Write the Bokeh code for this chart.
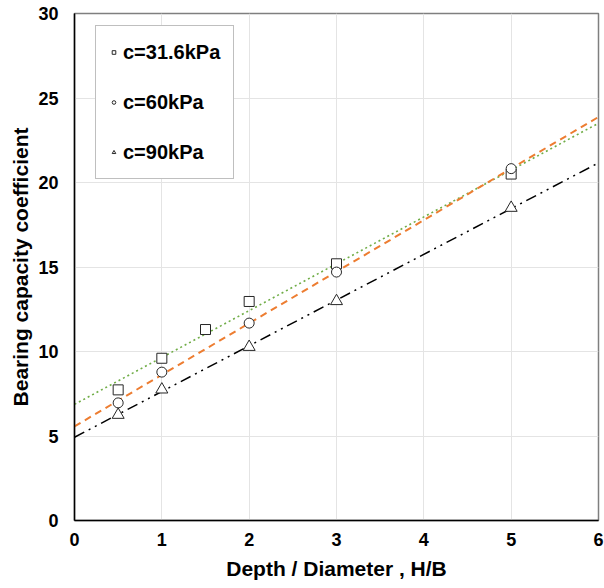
import numpy as np
from bokeh.plotting import figure
from bokeh.models import Range1d, FixedTicker, Legend, LegendItem
from bokeh.embed import file_html
from bokeh.resources import INLINE

# data
x_a = [0.5, 1.0, 1.5, 2.0, 3.0, 5.0]
y_a = [7.73, 9.6, 11.3, 12.96, 15.19, 20.5]   # c=31.6kPa
x_b = [0.5, 1.0, 2.0, 3.0, 5.0]
y_b = [6.96, 8.78, 11.68, 14.7, 20.82]         # c=60kPa
x_c = [0.5, 1.0, 2.0, 3.0, 5.0]
y_c = [6.25, 7.75, 10.27, 12.98, 18.5]         # c=90kPa
labels = ["c=31.6kPa", "c=60kPa", "c=90kPa"]
x_ticks = [0, 1, 2, 3, 4, 5, 6]
y_ticks = [0, 5, 10, 15, 20, 25, 30]

FONT = "Liberation Sans"

p = figure(width=604, height=588, output_backend="svg", toolbar_location=None,
           x_range=Range1d(0, 6), y_range=Range1d(0, 30),
           min_border_left=74, min_border_right=6, min_border_top=13, min_border_bottom=68)
p.background_fill_color = "white"
p.border_fill_color = "white"
p.outline_line_color = "#7f7f7f"
p.outline_line_width = 1.5

for ax in (p.xaxis[0], p.yaxis[0]):
    ax.axis_line_color = "black"
    ax.axis_line_width = 1.5
    ax.major_tick_out = 0
    ax.major_tick_in = 0
    ax.minor_tick_out = 0
    ax.minor_tick_in = 0
    ax.major_label_text_font = FONT
    ax.major_label_text_font_style = "bold"
    ax.major_label_text_font_size = "18px"
    ax.major_label_text_color = "black"
    ax.axis_label_text_font = FONT
    ax.axis_label_text_font_style = "bold"
    ax.axis_label_text_font_size = "21px"
    ax.axis_label_text_color = "black"

p.xaxis.ticker = FixedTicker(ticks=x_ticks)
p.yaxis.ticker = FixedTicker(ticks=y_ticks)
p.xaxis.axis_label = "Depth / Diameter , H/B"
p.yaxis.axis_label = "Bearing capacity coefficient"
p.xaxis.major_label_standoff = 12
p.yaxis.major_label_standoff = 16
p.xaxis.axis_label_standoff = 8
p.yaxis.axis_label_standoff = 3

p.xgrid.grid_line_color = "#e4e4e4"
p.ygrid.grid_line_color = "#e4e4e4"
p.xgrid.grid_line_width = 1
p.ygrid.grid_line_width = 1

# trendlines (linear least-squares of each series)
xl = np.array([0.0, 6.0])
ka, ba = np.polyfit(x_a, y_a, 1)
kb, bb = np.polyfit(x_b, y_b, 1)
kc, bc = np.polyfit(x_c, y_c, 1)
p.line(xl, ka * xl + ba, line_color="#70AD47", line_width=1.6, line_dash="2 3")
p.line(xl, kb * xl + bb, line_color="#ED7D31", line_width=2, line_dash="7 5")
p.line(xl, kc * xl + bc, line_color="black", line_width=1.5, line_dash="11 5 2 5 2 5")

ra = p.scatter(x_a, y_a, marker="square", size=10, fill_color="white",
               line_color="#262626", line_width=1)
rb = p.scatter(x_b, y_b, marker="circle", size=10, fill_color="white",
               line_color="#262626", line_width=1)
rc = p.scatter(x_c, y_c, marker="triangle", size=12, fill_color="white",
               line_color="#262626", line_width=1)

# legend glyph proxies with small markers
la = p.scatter([-10], [-10], marker="square", size=9, fill_color="white", line_color="#262626")
lb = p.scatter([-10], [-10], marker="circle", size=9, fill_color="white", line_color="#262626")
lc = p.scatter([-10], [-10], marker="triangle", size=9, fill_color="white", line_color="#262626")

legend = Legend(items=[LegendItem(label=labels[0], renderers=[la]),
                       LegendItem(label=labels[1], renderers=[lb]),
                       LegendItem(label=labels[2], renderers=[lc])],
                location=(21, 341))
legend.label_text_font = FONT
legend.label_text_font_style = "bold"
legend.label_text_font_size = "20px"
legend.label_text_color = "black"
legend.border_line_color = "#7f7f7f"
legend.border_line_width = 1.2
legend.background_fill_color = "white"
legend.background_fill_alpha = 1
legend.padding = 13
legend.margin = 0
legend.spacing = 24
legend.glyph_width = 9
legend.glyph_height = 26
legend.label_height = 26
legend.label_standoff = 5
p.add_layout(legend, "center")

open("out.html", "w").write(file_html(p, INLINE))
